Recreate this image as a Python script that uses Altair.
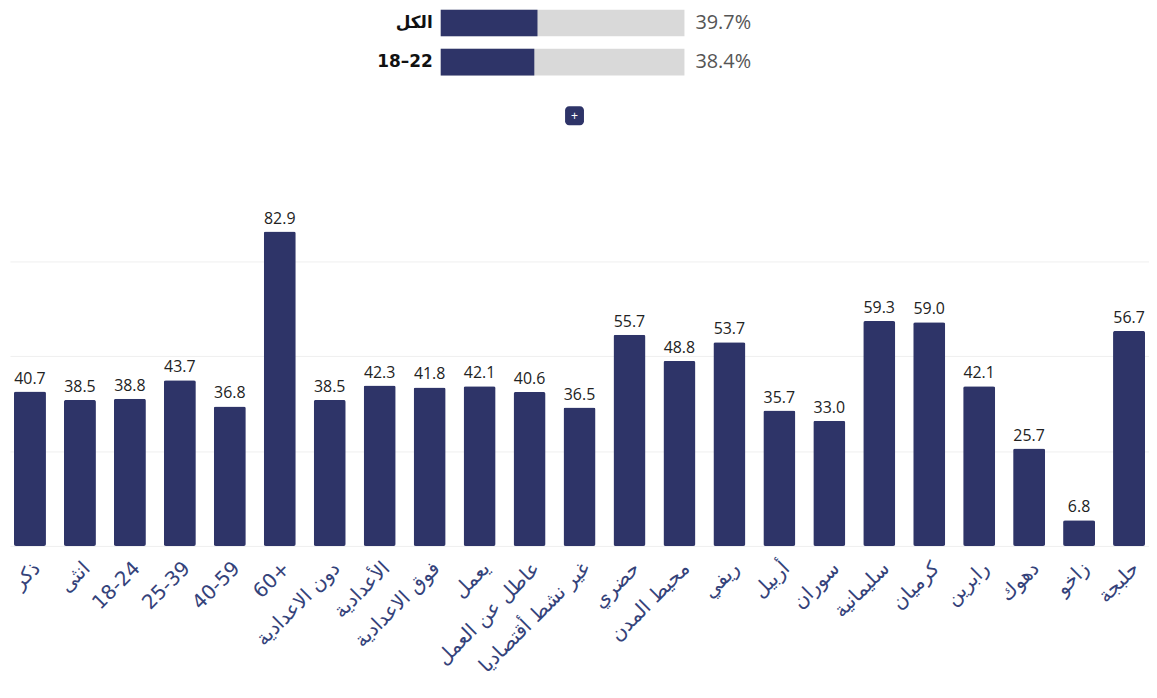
import altair as alt
import pandas as pd

# ---- data ----
summary_labels = ["الكل", "18–22"]
summary_values = [39.7, 38.4]

categories = ["ذكر", "انثى", "18-24", "25-39", "40-59", "60+", "دون الاعدادية",
              "الأعدادية", "فوق الاعدادية", "يعمل", "عاطل عن العمل",
              "غير نشط أقتصاديا", "حضري", "محيط المدن", "ريفي", "أربيل",
              "سوران", "سليمانية", "كرميان", "رابرين", "دهوك", "زاخو", "حلبجة"]
values = [40.7, 38.5, 38.8, 43.7, 36.8, 82.9, 38.5, 42.3, 41.8, 42.1, 40.6,
          36.5, 55.7, 48.8, 53.7, 35.7, 33.0, 59.3, 59.0, 42.1, 25.7, 6.8, 56.7]

NAVY = "#2e3468"
LABEL_BLUE = "#34427a"

# ---- top summary panel ----
sdf = pd.DataFrame({"label": summary_labels, "value": summary_values,
                    "total": [100] * len(summary_values)})
sdf["pct"] = sdf["value"].map(lambda v: f"{v:.1f}%")

xs = alt.Scale(domain=[0, 100], range=[433, 678])
ys = alt.Scale(domain=summary_labels, range=[0, 66], paddingInner=0.32, paddingOuter=0.0)

base_top = alt.Chart(sdf)
track = base_top.mark_bar(color="#d9d9d9").encode(
    x=alt.X("zero:Q", scale=xs, axis=None), x2="total:Q",
    y=alt.Y("label:N", scale=ys, axis=None, sort=summary_labels)
).transform_calculate(zero="0")
fill = base_top.mark_bar(color=NAVY).encode(
    x=alt.X("zero:Q", scale=xs, axis=None), x2="value:Q",
    y=alt.Y("label:N", scale=ys, axis=None, sort=summary_labels)
).transform_calculate(zero="0")
names = base_top.mark_text(align="right", dx=-8, fontSize=17, fontWeight="bold",
                           color="#111", font="DejaVu Sans").encode(
    x=alt.X("zero:Q", scale=xs, axis=None),
    y=alt.Y("label:N", scale=ys, axis=None, sort=summary_labels),
    text="label:N"
).transform_calculate(zero="0")
pcts = base_top.mark_text(align="left", dx=11, fontSize=20, color="#555",
                          font="Open Sans").encode(
    x=alt.X("total:Q", scale=xs, axis=None),
    y=alt.Y("label:N", scale=ys, axis=None, sort=summary_labels),
    text="pct:N"
)
btn_df = pd.DataFrame({"t": ["+"]})
button = alt.Chart(btn_df).mark_rect(color=NAVY, cornerRadius=4).encode(
    x=alt.value(558), x2=alt.value(577), y=alt.value(97), y2=alt.value(116))
button_txt = alt.Chart(btn_df).mark_text(color="white", fontSize=12).encode(
    x=alt.value(567.5), y=alt.value(106.5), text="t:N")

top = alt.layer(track, fill, names, pcts, button, button_txt).properties(
    width=1145, height=120)

# ---- main bar chart ----
df = pd.DataFrame({"cat": categories, "val": values})
df["lbl"] = df["val"].map(lambda v: f"{v:.1f}")

xb = alt.X("cat:N", sort=categories, title=None,
           scale=alt.Scale(paddingInner=0.36, paddingOuter=0.08),
           axis=alt.Axis(labelAngle=-45, labelFontSize=20, labelColor=LABEL_BLUE,
                         labelFont="DejaVu Sans", domain=False, ticks=False,
                         labelPadding=12, labelOverlap=False, labelLimit=300))
yb = alt.Y("val:Q", title=None, scale=alt.Scale(domain=[0, 82.9], nice=False),
           axis=alt.Axis(values=[0, 25, 50, 75], labels=False, ticks=False,
                         domain=False, grid=True, gridColor="#efefef"))

bars = alt.Chart(df).mark_bar(color=NAVY, cornerRadius=2).encode(x=xb, y=yb)
texts = alt.Chart(df).mark_text(baseline="bottom", dy=-5, fontSize=16,
                                fontWeight=500, color="#222", font="Open Sans").encode(
    x=alt.X("cat:N", sort=categories), y="val:Q", text="lbl:N")

main = alt.layer(bars, texts).properties(width=1145, height=316)

chart = alt.vconcat(top, main, spacing=82).properties(
    padding=0, background="white").configure_view(strokeWidth=0)

chart.save("out.html", embed_options={"renderer": "svg", "actions": False})
